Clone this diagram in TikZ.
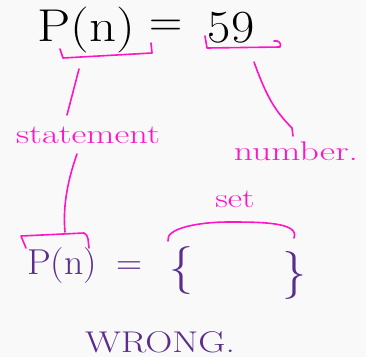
\documentclass[tikz,border=0pt]{standalone}
\usepackage{fontspec}
\definecolor{bg}{HTML}{F9F9F9}
\definecolor{mag}{HTML}{FF14C8}
\definecolor{pur}{HTML}{5B2D8E}
\begin{document}
\begin{tikzpicture}[x=1pt,y=-1pt,
  ink/.style={line width=1.6pt,line cap=round,line join=round},
  magline/.style={ink,draw=mag},
  blk/.style={text=black,inner sep=0pt,font=\fontsize{46}{48}\selectfont},
  mtxt/.style={text=mag,inner sep=0pt,font=\fontsize{27}{29}\selectfont},
  ptxt/.style={text=pur,inner sep=0pt,font=\fontsize{36}{38}\selectfont}]
\fill[bg] (0,0) rectangle (366,357);
\useasboundingbox (0,0) rectangle (366,357);
% top equation
\node[blk,xscale=1.15] (tp) at (86,30) {P(n)};
\node[blk] (teq) at (166,28) {=};
\node[blk,xscale=1.1] (t59) at (231,28) {59};
% brackets under top
\coordinate (b1a) at (60,49);
\coordinate (b1b) at (63,58);
\coordinate (b1c) at (152,53);
\coordinate (b1d) at (151,43);
\draw[magline] (b1a) -- (b1b) -- (b1c) -- (b1d);
\coordinate (b2a) at (205,36);
\coordinate (b2b) at (207,48);
\coordinate (b2c) at (280,47);
\coordinate (b2d) at (274,41);
\draw[magline] (b2a) -- (b2b) -- (b2c) .. controls (282,43) and (278,40) .. (b2d);
% labels
\node[mtxt,xscale=1.35] (stm) at (88,135) {statement};
\node[mtxt,xscale=1.4] (num) at (296,151) {number.};
\node[mtxt,xscale=1.3] (set) at (235,199) {set};
% connectors
\coordinate (c1a) at (79,69);
\coordinate (c1b) at (67,115);
\draw[magline] (c1a) -- (c1b);
\coordinate (c2a) at (254,62);
\coordinate (c2b) at (292,128);
\draw[magline] (c2a) .. controls (266,95) and (274,110) .. (c2b);
\draw[magline] (c2b) -- (293,136);
\coordinate (c3a) at (77,154);
\coordinate (c3b) at (65,232);
\draw[magline] (c3a) .. controls (66,185) and (63,210) .. (c3b);
% bracket over bottom P(n)
\coordinate (b3a) at (26,248);
\coordinate (b3b) at (21,236);
\coordinate (b3c) at (84,233);
\coordinate (b3d) at (89,248);
\draw[magline] (b3a) -- (b3b) -- (b3c) .. controls (89,235) and (88,242) .. (b3d);
% bracket over set
\coordinate (b4a) at (168,241);
\coordinate (b4b) at (228,222);
\coordinate (b4c) at (294,238);
\draw[magline] (b4a) .. controls (165,228) and (200,222) .. (b4b)
  .. controls (260,222) and (300,222) .. (b4c);
% bottom equation
\node[ptxt,xscale=1.05] (bp) at (62,266) {P(n)};
\node[ptxt] (beq) at (129,268) {=};
\node[ptxt,font=\fontsize{48}{50}\selectfont] (lbr) at (181,270) {\{};
\node[ptxt,font=\fontsize{48}{50}\selectfont] (rbr) at (294,275) {\}};
\node[ptxt,font=\fontsize{30}{32}\selectfont,xscale=1.25] (wr) at (160,342) {WRONG.};
\end{tikzpicture}
\end{document}
